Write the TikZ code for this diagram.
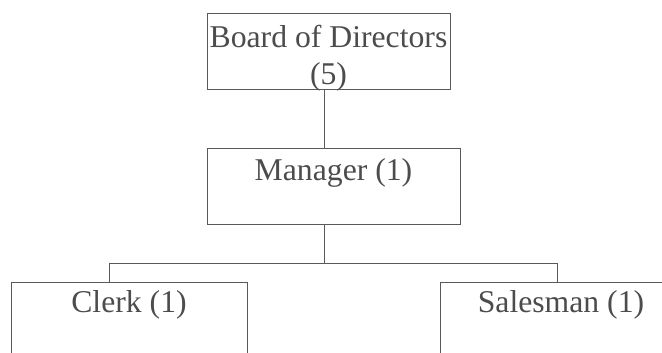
\documentclass[tikz,border=0pt]{standalone}
\usepackage{fontspec}
\setmainfont{Liberation Serif}
\begin{document}
\begin{tikzpicture}[x=1pt,y=-1pt,
  orgbox/.style={draw=black!65, line width=0.9pt, rectangle, inner sep=0pt, anchor=north,
    align=center, text=black!70, font=\fontsize{31.7}{37}\selectfont},
  link/.style={draw=black!65, line width=0.9pt}]
\useasboundingbox (0,0) rectangle (662,353);
\clip (0,0) rectangle (662,353);
\node[orgbox, minimum width=243pt, text height=71pt, text depth=5pt] (board) at (328.5,13) {Board of Directors\\(5)};
\node[orgbox, minimum width=253pt, text height=32pt, text depth=44pt] (manager) at (333.5,148) {Manager (1)};
\node[orgbox, minimum width=236pt, text height=30pt, text depth=80pt] (clerk) at (129,282) {Clerk (1)};
\node[orgbox, minimum width=242pt, text height=30pt, text depth=80pt] (salesman) at (561,282) {Salesman (1)};
\coordinate (bus) at (324.5,263);
\coordinate (lend) at (109,263);
\coordinate (rend) at (557,263);
\draw[link] (board.south -| bus) -- (manager.north -| bus);
\draw[link] (manager.south -| bus) -- (bus);
\draw[link] (clerk.north -| lend) -- (lend) -- (rend) -- (salesman.north -| rend);
\end{tikzpicture}
\end{document}
